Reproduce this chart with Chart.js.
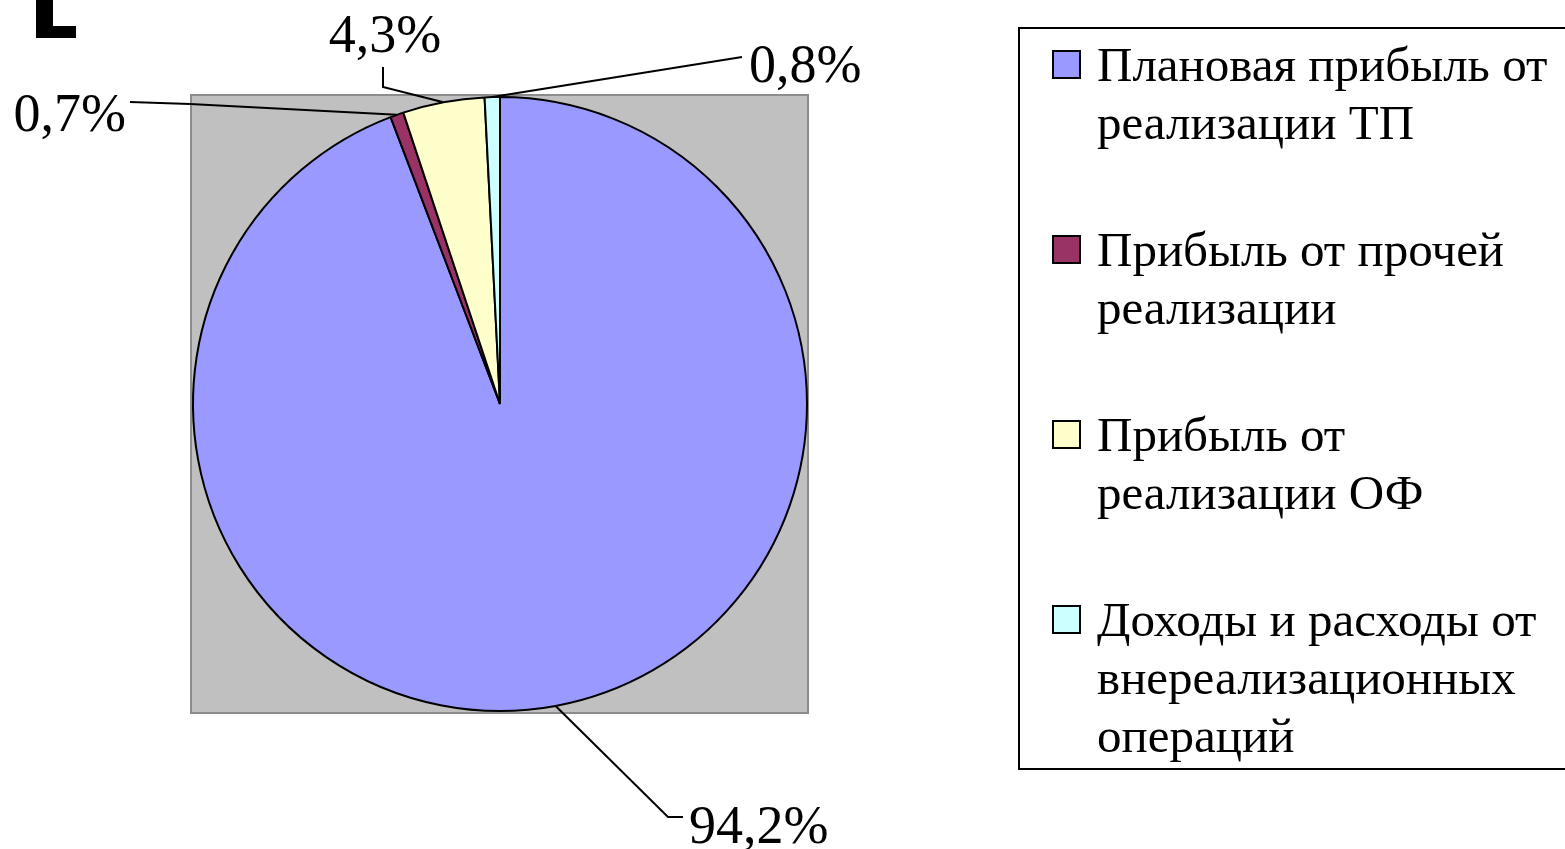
<!DOCTYPE html>
<html>
<head>
<meta charset="utf-8">
<script src="https://cdn.jsdelivr.net/npm/chart.js@4.4.1/dist/chart.umd.min.js"></script>
<style>
  html, body { margin: 0; padding: 0; background: #fff; overflow: hidden; }
  body { width: 1565px; height: 849px; position: relative; font-family: "Liberation Serif", "Times New Roman", serif; }
  #chart { position: absolute; left: 0; top: 0; }
  .mark { position: absolute; background: #000; }
  #legend {
    position: absolute; left: 1018px; top: 27px; width: 620px; height: 739px;
    border: 2px solid #000; box-sizing: content-box; background: #fff;
  }
  .entry { position: relative; margin-left: 77px; font-size: 49px; line-height: 58px; color: #000; }
  .entry div { white-space: nowrap; }
  .swatch { position: absolute; left: -45px; top: 14px; width: 25px; height: 25px; border: 2px solid #000; }
</style>
</head>
<body>
<div class="mark" style="left:36px;top:0;width:17px;height:38px"></div>
<div class="mark" style="left:36px;top:26px;width:40px;height:12px"></div>
<canvas id="chart" width="1565" height="849"></canvas>
<div id="legend"></div>
<script>
// data
const categories = [
  ['Плановая прибыль от', 'реализации ТП'],
  ['Прибыль от прочей', 'реализации'],
  ['Прибыль от', 'реализации ОФ'],
  ['Доходы и расходы от', 'внереализационных', 'операций']
];
const shares = [94.2, 0.7, 4.3, 0.8];
const colors = ['#9999FF', '#993366', '#FFFFCC', '#CCFFFF'];

// where the percent labels sit (page px), with optional elbow of the leader line
const labelLayout = [
  { elbow: [668, 817], end: [683, 817], tx: 689, ty: 843, align: 'left' },
  { elbow: [190, 104], end: [130, 102], tx: 126, ty: 131, align: 'right' },
  { elbow: [383, 87],  end: [383, 67],  tx: 385, ty: 52,  align: 'center' },
  { elbow: null,       end: [742, 57],  tx: 749, ty: 82,  align: 'left' }
];

const plotBackground = {
  id: 'plotBackground',
  beforeDraw(chart) {
    const a = chart.chartArea;
    const ctx = chart.ctx;
    ctx.save();
    ctx.fillStyle = '#C0C0C0';
    ctx.fillRect(a.left - 1, a.top - 1, a.width + 1, a.height + 2);
    ctx.strokeStyle = '#8c8c8c';
    ctx.lineWidth = 2;
    ctx.strokeRect(a.left - 1, a.top - 1, a.width + 1, a.height + 2);
    ctx.restore();
  }
};

const leaderLabels = {
  id: 'leaderLabels',
  afterDatasetsDraw(chart) {
    const ctx = chart.ctx;
    const meta = chart.getDatasetMeta(0);
    ctx.save();
    ctx.strokeStyle = '#000';
    ctx.lineWidth = 2;
    ctx.fillStyle = '#000';
    ctx.font = '54px "Liberation Serif", "Times New Roman", serif';
    meta.data.forEach((arc, i) => {
      const p = arc.getProps(['x', 'y', 'startAngle', 'endAngle', 'outerRadius'], true);
      const mid = (p.startAngle + p.endAngle) / 2;
      const ax = p.x + Math.cos(mid) * p.outerRadius;
      const ay = p.y + Math.sin(mid) * p.outerRadius;
      const lay = labelLayout[i];
      ctx.beginPath();
      ctx.moveTo(ax, ay);
      if (lay.elbow) ctx.lineTo(lay.elbow[0], lay.elbow[1]);
      ctx.lineTo(lay.end[0], lay.end[1]);
      ctx.stroke();
      ctx.textAlign = lay.align;
      ctx.textBaseline = 'alphabetic';
      const txt = shares[i].toFixed(1).replace('.', ',') + '%';
      ctx.fillText(txt, lay.tx, lay.ty);
    });
    ctx.restore();
  }
};

new Chart(document.getElementById('chart'), {
  type: 'pie',
  data: {
    labels: categories,
    datasets: [{
      data: shares,
      backgroundColor: colors,
      borderColor: '#000',
      borderWidth: 2
    }]
  },
  options: {
    responsive: false,
    animation: false,
    layout: { padding: { left: 192, top: 96, right: 757, bottom: 137 } },
    plugins: {
      legend: { display: false },
      tooltip: { enabled: false }
    }
  },
  plugins: [plotBackground, leaderLabels]
});

// legend built from the same arrays
const legend = document.getElementById('legend');
const gaps = [7, 69, 69, 69];
categories.forEach((lines, i) => {
  const e = document.createElement('div');
  e.className = 'entry';
  e.style.marginTop = gaps[i] + 'px';
  const sw = document.createElement('span');
  sw.className = 'swatch';
  sw.style.background = colors[i];
  e.appendChild(sw);
  lines.forEach(t => {
    const d = document.createElement('div');
    d.textContent = t;
    e.appendChild(d);
  });
  legend.appendChild(e);
});
</script>
</body>
</html>
